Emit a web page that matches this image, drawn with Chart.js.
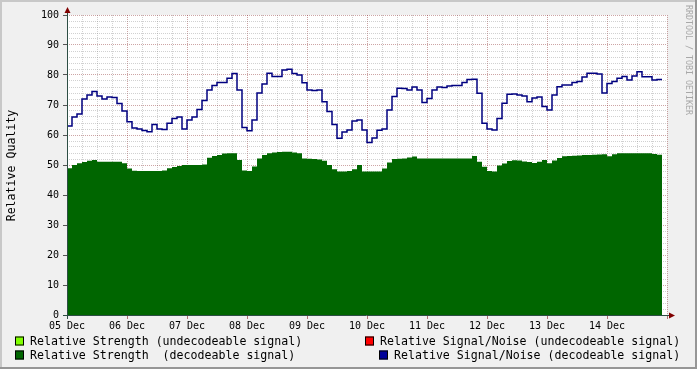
<!DOCTYPE html>
<html>
<head>
<meta charset="utf-8">
<script src="https://cdn.jsdelivr.net/npm/chart.js@4/dist/chart.umd.min.js"></script>
<style>
    html, body { margin: 0; padding: 0; background: #f0f0f0; }
    #wrap { width: 697px; height: 369px; }
</style>
</head>
<body>
<div id="wrap"><canvas id="qualityChart" width="697" height="369"></canvas></div>
<script>
// one sample every 2 hours, starting 05 Dec 00:00
const stepHours = 2;
const dayLabels = ['05 Dec', '06 Dec', '07 Dec', '08 Dec', '09 Dec', '10 Dec', '11 Dec', '12 Dec', '13 Dec', '14 Dec'];

const signalNoise = [
    67, 63, 66, 67, 72, 73.3, 74.5, 73, 72, 72.7,
    72.5, 70.5, 68, 64.4, 62.3, 62, 61.5, 61.1, 63.5, 62,
    61.8, 63.9, 65.5, 66, 62, 65, 66, 68.5, 71.5, 75,
    76.5, 77.5, 77.5, 78.9, 80.5, 75, 62.5, 61.4, 65, 74,
    77, 80.6, 79.5, 79.5, 81.7, 81.9, 80.5, 80, 77.4, 75,
    74.8, 75, 71.1, 67.8, 63.5, 58.9, 61, 61.7, 64.7, 65,
    61.7, 57.5, 59, 61.6, 62, 68.3, 72.8, 75.6, 75.5, 75,
    76, 75, 70.8, 72.2, 75, 76, 75.8, 76.3, 76.5, 76.5,
    77.5, 78.5, 78.6, 73.9, 63.9, 62, 61.7, 65.5, 70.6, 73.6,
    73.7, 73.3, 73, 71.1, 72.3, 72.7, 69.5, 68.3, 73.3, 76.1,
    76.7, 76.7, 77.5, 77.8, 79.3, 80.6, 80.6, 80.3, 74, 77.2,
    77.8, 78.9, 79.5, 78.3, 79.7, 81.1, 79.4, 79.4, 78.3, 78.5
];

const strength = [
    48, 48.9, 50, 50.6, 51, 51.4, 51.7, 51.1, 51.1, 51.1,
    51.1, 51.1, 50.6, 48.8, 48.1, 48, 48, 48, 48, 48,
    48.2, 48.9, 49.3, 49.7, 50, 50, 50, 50, 50.2, 52.4,
    53, 53.3, 53.8, 53.9, 53.9, 51.7, 48.2, 48, 49.5, 52.2,
    53.3, 53.9, 54.2, 54.3, 54.4, 54.4, 54.2, 53.9, 52.2, 52.1,
    52, 51.8, 51.4, 50, 48.6, 47.8, 47.8, 48, 48.6, 50,
    47.8, 47.8, 47.8, 47.8, 48.8, 50.8, 52, 52.1, 52.2, 52.5,
    52.8, 52.2, 52.2, 52.2, 52.2, 52.2, 52.2, 52.2, 52.2, 52.2,
    52.2, 52.2, 53, 51.1, 49.4, 48, 47.8, 49.8, 50.5, 51.3,
    51.6, 51.5, 51.2, 51, 50.7, 51.1, 51.7, 50.6, 51.5, 52.3,
    52.9, 53, 53.1, 53.2, 53.3, 53.3, 53.4, 53.5, 53.6, 52.9,
    53.6, 53.9, 53.9, 53.9, 53.9, 53.9, 53.9, 53.9, 53.7, 53.4
];

const legendItems = [
    { text: 'Relative Strength (undecodeable signal)', color: '#80ff00', box: 15, x: 30, y: 344.5 },
    { text: 'Relative Strength  (decodeable signal)', color: '#006600', box: 15, x: 30, y: 358.5 },
    { text: 'Relative Signal/Noise (undecodeable signal)', color: '#ff0000', box: 365, x: 380, y: 344.5 },
    { text: 'Relative Signal/Noise (decodeable signal)', color: '#000099', box: 379, x: 394, y: 358.5 },
];

const MONO = '"DejaVu Sans Mono", monospace';
const GRID = 'rgba(140, 140, 140, 0.4)';
const MGRID = 'rgba(130, 30, 30, 0.4)';

const toPoints = (values) => values.map((v, i) => ({ x: i * stepHours, y: v }));

const rrdFrame = {
    id: 'rrdFrame',
    beforeDraw(chart) {
        const { ctx, chartArea: a, width, height } = chart;
        ctx.save();
        ctx.fillStyle = '#f0f0f0';
        ctx.fillRect(0, 0, width, height);
        ctx.fillStyle = '#c8c8c8';
        ctx.fillRect(0, 0, width, 2);
        ctx.fillRect(0, 0, 2, height);
        ctx.fillStyle = '#969696';
        ctx.fillRect(0, height - 2, width, 2);
        ctx.fillRect(width - 2, 0, 2, height);
        ctx.fillStyle = '#ffffff';
        ctx.fillRect(a.left, a.top, a.right - a.left, a.bottom - a.top);
        ctx.restore();
    },
    afterDraw(chart) {
        const { ctx, chartArea: a } = chart;
        const x0 = Math.round(chart.scales.x.getPixelForValue(0)) + 0.5;
        const y0 = Math.round(chart.scales.y.getPixelForValue(0)) + 0.5;
        ctx.save();

        // axes
        ctx.strokeStyle = '#2c4d43';
        ctx.lineWidth = 1;
        ctx.beginPath();
        ctx.moveTo(a.left - 4, y0);
        ctx.lineTo(a.right + 3, y0);
        ctx.moveTo(x0, a.bottom + 4);
        ctx.lineTo(x0, a.top - 3);
        ctx.stroke();

        ctx.fillStyle = '#800000';
        ctx.beginPath();
        ctx.moveTo(x0, a.top - 8);
        ctx.lineTo(x0 - 3, a.top - 2);
        ctx.lineTo(x0 + 3, a.top - 2);
        ctx.closePath();
        ctx.fill();
        ctx.beginPath();
        ctx.moveTo(a.right + 8, y0);
        ctx.lineTo(a.right + 2, y0 - 3);
        ctx.lineTo(a.right + 2, y0 + 3);
        ctx.closePath();
        ctx.fill();

        // vertical label
        ctx.fillStyle = '#000';
        ctx.font = '11.6px ' + MONO;
        ctx.textAlign = 'center';
        ctx.textBaseline = 'middle';
        ctx.save();
        ctx.translate(12, (a.top + a.bottom) / 2 + 0.5);
        ctx.rotate(-Math.PI / 2);
        ctx.fillText('Relative Quality', 0, 0);
        ctx.restore();

        // watermark
        ctx.save();
        ctx.fillStyle = '#a8a8a8';
        ctx.font = '8.3px ' + MONO;
        ctx.textAlign = 'left';
        ctx.translate(688.5, 5);
        ctx.rotate(Math.PI / 2);
        ctx.fillText('RRDTOOL / TOBI OETIKER', 0, 0);
        ctx.restore();

        // legend
        ctx.font = '11.6px ' + MONO;
        ctx.textAlign = 'left';
        ctx.textBaseline = 'alphabetic';
        legendItems.forEach((item) => {
            ctx.fillStyle = item.color;
            ctx.fillRect(item.box, item.y - 8, 9, 9);
            ctx.strokeStyle = '#000';
            ctx.strokeRect(item.box + 0.5, item.y - 7.5, 8, 8);
            ctx.fillStyle = '#000';
            ctx.fillText(item.text, item.x, item.y);
        });
        ctx.restore();
    },
};

Chart.defaults.font.family = MONO;
Chart.defaults.font.size = 10;
Chart.defaults.color = '#000';

new Chart(document.getElementById('qualityChart'), {
    type: 'line',
    data: {
        datasets: [
            {
                label: 'Relative Signal/Noise (decodeable signal)',
                data: toPoints(signalNoise),
                borderColor: '#000080',
                borderWidth: 1.5,
                pointRadius: 0,
                stepped: 'after',
                fill: false,
            },
            {
                label: 'Relative Strength  (decodeable signal)',
                data: toPoints(strength),
                borderColor: '#006600',
                borderWidth: 0,
                backgroundColor: '#006600',
                pointRadius: 0,
                stepped: 'after',
                fill: 'origin',
            },
        ],
    },
    options: {
        responsive: false,
        animation: false,
        devicePixelRatio: 1,
        layout: { padding: { left: 0, top: 15, right: 30, bottom: 0 } },
        plugins: {
            legend: { display: false },
            tooltip: { enabled: false },
        },
        scales: {
            x: {
                type: 'linear',
                min: 0,
                max: 240,
                z: 1,
                afterFit: (scale) => { scale.height = 54; },
                grid: {
                    color: (c) => (c.tick && c.tick.value % 24 === 0 ? MGRID : GRID),
                    tickColor: (c) => (c.tick && c.tick.value % 24 === 0 ? 'rgba(130, 30, 30, 0.6)' : 'rgba(0,0,0,0)'),
                    tickLength: 4,
                    tickBorderDash: [],
                },
                border: { display: false, dash: [1, 1] },
                ticks: {
                    stepSize: 6,
                    autoSkip: false,
                    maxRotation: 0,
                    maxTicksLimit: 100,
                    padding: 1,
                    callback: (v) => (v % 24 === 0 && v < 240 ? dayLabels[v / 24] : ''),
                },
            },
            y: {
                min: 0,
                max: 100,
                z: 1,
                afterFit: (scale) => { scale.width = 67; },
                grid: {
                    color: (c) => (c.tick && c.tick.value % 10 === 0 ? MGRID : GRID),
                    tickColor: (c) => (c.tick && c.tick.value % 10 === 0 ? '#555' : 'rgba(0,0,0,0)'),
                    tickLength: 4,
                    tickBorderDash: [],
                },
                border: { display: false, dash: [1, 1] },
                ticks: {
                    stepSize: 2,
                    autoSkip: false,
                    maxTicksLimit: 100,
                    padding: 4,
                    callback: (v) => (v % 10 === 0 ? String(v) : ''),
                },
            },
        },
    },
    plugins: [rrdFrame],
});
</script>
</body>
</html>
